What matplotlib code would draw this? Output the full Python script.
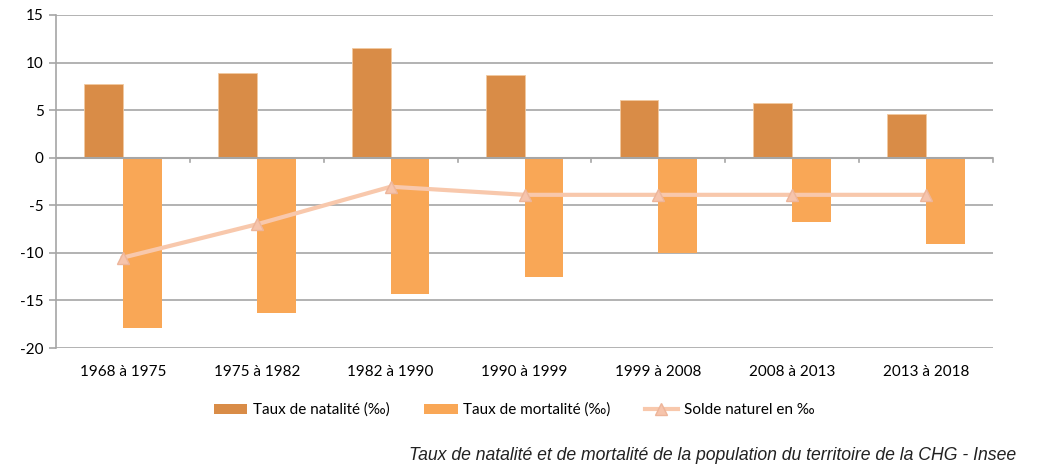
import matplotlib
matplotlib.use("Agg")
import matplotlib.pyplot as plt
from matplotlib.lines import Line2D
from matplotlib.patches import Patch
import numpy as np

categories = ["1968 à 1975", "1975 à 1982", "1982 à 1990", "1990 à 1999",
              "1999 à 2008", "2008 à 2013", "2013 à 2018"]
natalite = [7.7, 8.9, 11.5, 8.7, 6.1, 5.8, 4.6]
mortalite = [-17.9, -16.3, -14.3, -12.5, -10.0, -6.8, -9.1]
solde = [-10.5, -7.0, -3.05, -3.9, -3.9, -3.9, -3.9]
yticks = [15, 10, 5, 0, -5, -10, -15, -20]

c_nat = "#D98C47"
c_mort = "#F9A756"
c_line = "#F8C8AC"
grid_c = "#A6A6A6"

plt.rcParams['font.family'] = ['Lato', 'DejaVu Sans']

fig = plt.figure(figsize=(10.38, 4.67), dpi=100)
ax = fig.add_axes([56/1038, 1-348/467, (993-56)/1038, (348-15)/467])

x = np.arange(len(categories))
w = 0.29
ax.bar(x - w/2, natalite, width=w, color=c_nat, edgecolor="#F2C9A0", linewidth=0.6, zorder=3)
ax.bar(x + w/2, mortalite, width=w, color=c_mort, zorder=3)
ax.plot(x, solde, color=c_line, lw=3, marker="^", markersize=9,
        markerfacecolor="#F6C4AC", markeredgecolor="#EDB59A", zorder=4)

ax.set_xlim(-0.5, len(categories) - 0.5)
ax.set_ylim(-20, 15)
ax.set_yticks(yticks)
ax.set_yticklabels([str(v) for v in yticks], fontsize=11)
for v in yticks:
    if v != 0:
        ax.axhline(v, color=grid_c, lw=1.2, zorder=1)
ax.axhline(0, color=grid_c, lw=1.5, zorder=5)

for s in ["top", "right", "bottom"]:
    ax.spines[s].set_visible(False)
ax.spines["left"].set_color(grid_c)
ax.spines["left"].set_linewidth(1.2)
ax.tick_params(axis="y", colors=grid_c, length=5, width=1.2, labelcolor="black", pad=4)
ax.set_xticks([])
# category boundary ticks on zero line
for b in np.arange(0.5, len(categories), 1.0):
    ax.plot([b, b], [0, -0.5], color=grid_c, lw=1.2, zorder=5, clip_on=False)
for i, c in enumerate(categories):
    ax.text(i, -22.5, c, ha="center", va="center", fontsize=11, color="black")

handles = [Patch(facecolor=c_nat), Patch(facecolor=c_mort),
           Line2D([0], [0], color=c_line, lw=3, marker="^", markersize=8,
                  markerfacecolor="#F6C4AC", markeredgecolor="#EDB59A")]
labels = ["Taux de natalité (‰)", "Taux de mortalité (‰)", "Solde naturel en ‰"]
fig.legend(handles, labels, loc="center", bbox_to_anchor=(514/1038, 1-410/467), ncol=3,
           frameon=False, fontsize=11, handlelength=2.2, handleheight=0.6,
           handletextpad=0.35, columnspacing=2.25)

fig.text(1016/1038, 1-455/467, "Taux de natalité et de mortalité de la population du territoire de la CHG - Insee",
         ha="right", va="center", fontsize=12.7, style="italic", family="Liberation Sans", color="#222222")

fig.savefig("out.png", dpi=100)
